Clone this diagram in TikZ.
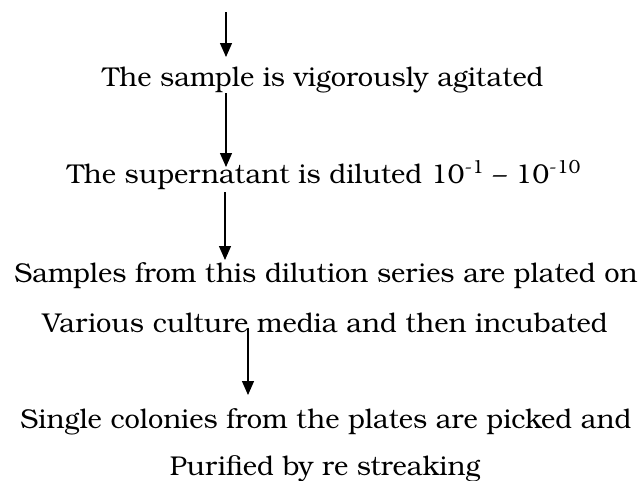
\documentclass[tikz,border=0pt]{standalone}
\usepackage{fontspec}
\setmainfont{TeX Gyre Bonum}
\usetikzlibrary{arrows.meta}
\begin{document}
\begin{tikzpicture}[x=1pt,y=-1pt,
  txt/.style={anchor=base,inner sep=0pt,font=\fontsize{27.2}{27.2}\selectfont},
  arr/.style={-{Triangle[width=12pt,length=14pt]},line width=1.3pt}]
\useasboundingbox (0,0) rectangle (642,480);
\node[txt] (t1) at (323,86) {The sample is vigorously agitated};
\node[txt] (t2) at (324,183) {The supernatant is diluted 10\textsuperscript{-1} – 10\textsuperscript{-10}};
\node[txt] (t3) at (326,282) {Samples from this dilution series are plated on};
\node[txt] (t4) at (325,332) {Various culture media and then incubated};
\node[txt] (t5) at (326,428) {Single colonies from the plates are picked and};
\node[txt] (t6) at (325,475) {Purified by re streaking};
\coordinate (s0) at (226,12);
\coordinate (e0) at (226,57);
\coordinate (s1) at (226,93);
\coordinate (e1) at (226,167);
\coordinate (s2) at (225,192);
\coordinate (e2) at (225,260);
\coordinate (s3) at (248,328);
\coordinate (e3) at (248,395);
\draw[arr] (s0) -- (e0);
\draw[arr] (s1) -- (e1);
\draw[arr] (s2) -- (e2);
\draw[arr] (s3) -- (e3);
\end{tikzpicture}
\end{document}
